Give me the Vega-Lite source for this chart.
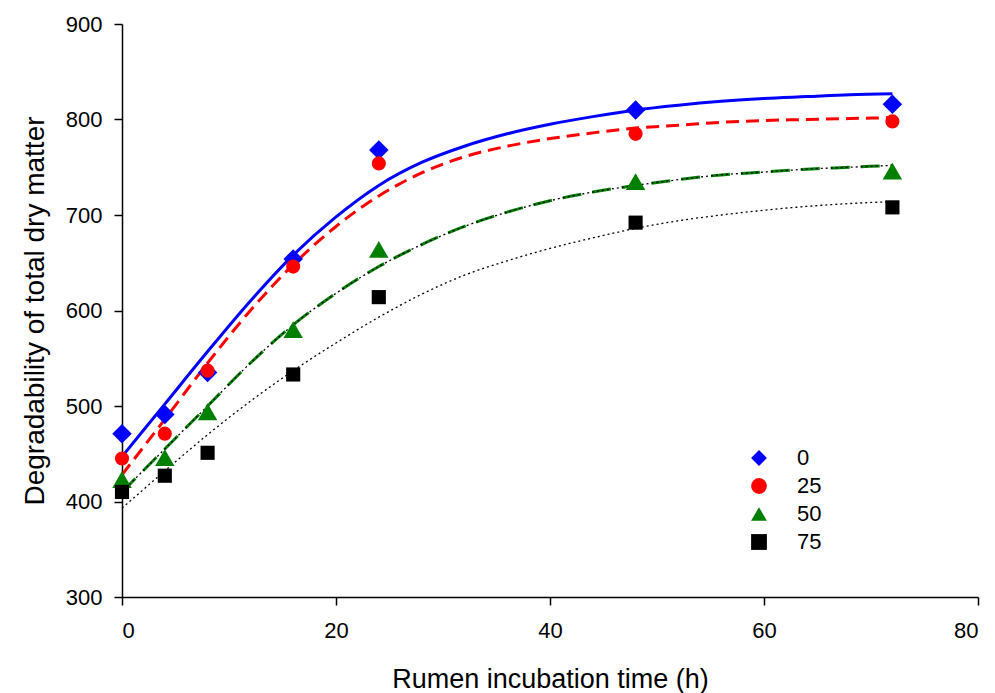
{
  "$schema": "https://vega.github.io/schema/vega-lite/v6.json",
  "width": 856,
  "height": 573,
  "autosize": "none",
  "padding": {"left": 122, "top": 24, "right": 17, "bottom": 96},
  "background": "white",
  "config": {
    "view": {"stroke": null},
    "font": "Liberation Sans",
    "axis": {
      "grid": false,
      "domainColor": "black",
      "tickColor": "black",
      "domainWidth": 1.5,
      "tickWidth": 1.5,
      "tickSize": 8,
      "labelColor": "black",
      "titleColor": "black",
      "labelFont": "Liberation Sans",
      "titleFont": "Liberation Sans",
      "labelFontSize": 22,
      "titleFontSize": 27,
      "titleFontWeight": "normal"
    },
    "legend": {"symbolSize": 250}
  },
  "datasets": {
    "pts": [
      {"t": 0, "value": 471, "series": "0"},
      {"t": 4, "value": 491, "series": "0"},
      {"t": 8, "value": 535, "series": "0"},
      {"t": 16, "value": 654, "series": "0"},
      {"t": 24, "value": 768, "series": "0"},
      {"t": 48, "value": 810, "series": "0"},
      {"t": 72, "value": 816, "series": "0"},
      {"t": 0, "value": 445, "series": "25"},
      {"t": 4, "value": 471, "series": "25"},
      {"t": 8, "value": 537, "series": "25"},
      {"t": 16, "value": 646, "series": "25"},
      {"t": 24, "value": 754, "series": "25"},
      {"t": 48, "value": 785, "series": "25"},
      {"t": 72, "value": 798, "series": "25"},
      {"t": 0, "value": 423, "series": "50"},
      {"t": 4, "value": 446, "series": "50"},
      {"t": 8, "value": 494, "series": "50"},
      {"t": 16, "value": 580, "series": "50"},
      {"t": 24, "value": 664, "series": "50"},
      {"t": 48, "value": 735, "series": "50"},
      {"t": 72, "value": 746, "series": "50"},
      {"t": 0, "value": 410, "series": "75"},
      {"t": 4, "value": 427, "series": "75"},
      {"t": 8, "value": 451, "series": "75"},
      {"t": 16, "value": 533, "series": "75"},
      {"t": 24, "value": 614, "series": "75"},
      {"t": 48, "value": 692, "series": "75"},
      {"t": 72, "value": 708, "series": "75"}
    ],
    "fit": [
      {"t": 0, "value": 447, "series": "0"},
      {"t": 4, "value": 502, "series": "0"},
      {"t": 8, "value": 557, "series": "0"},
      {"t": 12, "value": 610, "series": "0"},
      {"t": 16, "value": 658, "series": "0"},
      {"t": 20, "value": 698, "series": "0"},
      {"t": 24, "value": 731, "series": "0"},
      {"t": 28, "value": 755, "series": "0"},
      {"t": 32, "value": 772, "series": "0"},
      {"t": 36, "value": 785, "series": "0"},
      {"t": 40, "value": 795, "series": "0"},
      {"t": 44, "value": 803, "series": "0"},
      {"t": 48, "value": 810, "series": "0"},
      {"t": 52, "value": 815, "series": "0"},
      {"t": 56, "value": 819, "series": "0"},
      {"t": 60, "value": 822, "series": "0"},
      {"t": 64, "value": 824, "series": "0"},
      {"t": 68, "value": 826, "series": "0"},
      {"t": 72, "value": 827, "series": "0"},
      {"t": 0, "value": 428, "series": "25"},
      {"t": 4, "value": 486, "series": "25"},
      {"t": 8, "value": 545, "series": "25"},
      {"t": 12, "value": 600, "series": "25"},
      {"t": 16, "value": 648, "series": "25"},
      {"t": 20, "value": 688, "series": "25"},
      {"t": 24, "value": 720, "series": "25"},
      {"t": 28, "value": 744, "series": "25"},
      {"t": 32, "value": 761, "series": "25"},
      {"t": 36, "value": 772, "series": "25"},
      {"t": 40, "value": 780, "series": "25"},
      {"t": 44, "value": 786, "series": "25"},
      {"t": 48, "value": 791, "series": "25"},
      {"t": 52, "value": 794, "series": "25"},
      {"t": 56, "value": 797, "series": "25"},
      {"t": 60, "value": 799, "series": "25"},
      {"t": 64, "value": 800, "series": "25"},
      {"t": 68, "value": 801, "series": "25"},
      {"t": 72, "value": 802, "series": "25"},
      {"t": 0, "value": 410, "series": "50"},
      {"t": 4, "value": 455, "series": "50"},
      {"t": 8, "value": 500, "series": "50"},
      {"t": 12, "value": 545, "series": "50"},
      {"t": 16, "value": 585, "series": "50"},
      {"t": 20, "value": 618, "series": "50"},
      {"t": 24, "value": 646, "series": "50"},
      {"t": 28, "value": 669, "series": "50"},
      {"t": 32, "value": 688, "series": "50"},
      {"t": 36, "value": 703, "series": "50"},
      {"t": 40, "value": 715, "series": "50"},
      {"t": 44, "value": 724, "series": "50"},
      {"t": 48, "value": 731, "series": "50"},
      {"t": 52, "value": 737, "series": "50"},
      {"t": 56, "value": 742, "series": "50"},
      {"t": 60, "value": 745, "series": "50"},
      {"t": 64, "value": 748, "series": "50"},
      {"t": 68, "value": 750, "series": "50"},
      {"t": 72, "value": 752, "series": "50"},
      {"t": 0, "value": 393, "series": "75"},
      {"t": 4, "value": 432, "series": "75"},
      {"t": 8, "value": 470, "series": "75"},
      {"t": 12, "value": 505, "series": "75"},
      {"t": 16, "value": 537, "series": "75"},
      {"t": 20, "value": 566, "series": "75"},
      {"t": 24, "value": 593, "series": "75"},
      {"t": 28, "value": 617, "series": "75"},
      {"t": 32, "value": 637, "series": "75"},
      {"t": 36, "value": 652, "series": "75"},
      {"t": 40, "value": 665, "series": "75"},
      {"t": 44, "value": 676, "series": "75"},
      {"t": 48, "value": 686, "series": "75"},
      {"t": 52, "value": 694, "series": "75"},
      {"t": 56, "value": 700, "series": "75"},
      {"t": 60, "value": 705, "series": "75"},
      {"t": 64, "value": 709, "series": "75"},
      {"t": 68, "value": 712, "series": "75"},
      {"t": 72, "value": 714, "series": "75"}
    ]
  },
  "encoding": {
    "x": {
      "field": "t",
      "type": "quantitative",
      "scale": {"domain": [0, 80], "nice": false, "zero": false},
      "axis": {"values": [0, 20, 40, 60, 80], "title": "Rumen incubation time (h)", "labelPadding": 15, "titlePadding": 25}
    },
    "y": {
      "field": "value",
      "type": "quantitative",
      "scale": {"domain": [300, 900], "nice": false, "zero": false},
      "axis": {"values": [300, 400, 500, 600, 700, 800, 900], "title": "Degradability of total dry matter", "titleFontSize": 28, "labelPadding": 12, "titlePadding": 16}
    },
    "color": {
      "field": "series",
      "type": "nominal",
      "scale": {"domain": ["0", "25", "50", "75"], "range": ["#0000ff", "#ff0000", "#008000", "#000000"]},
      "legend": {
        "title": null,
        "orient": "none",
        "legendX": 626,
        "legendY": 423,
        "labelFontSize": 22,
        "labelFont": "Liberation Sans",
        "labelColor": "black",
        "labelOffset": 27,
        "rowPadding": 6,
        "symbolStrokeWidth": 0
      }
    },
    "shape": {
      "field": "series",
      "type": "nominal",
      "scale": {"domain": ["0", "25", "50", "75"], "range": ["diamond", "circle", "triangle-up", "square"]}
    }
  },
  "layer": [
    {
      "data": {"name": "fit"},
      "transform": [{"filter": "datum.series === '0'"}],
      "mark": {"type": "line", "strokeWidth": 3, "interpolate": "monotone"},
      "encoding": {"color": {"value": "#0000ff"}, "shape": null}
    },
    {
      "data": {"name": "fit"},
      "transform": [{"filter": "datum.series === '25'"}],
      "mark": {"type": "line", "strokeWidth": 3, "strokeDash": [13, 7], "interpolate": "monotone"},
      "encoding": {"color": {"value": "#ff0000"}, "shape": null}
    },
    {
      "data": {"name": "fit"},
      "transform": [{"filter": "datum.series === '50'"}],
      "mark": {"type": "line", "strokeWidth": 3, "strokeDash": [19, 11], "interpolate": "monotone"},
      "encoding": {"color": {"value": "#008000"}, "shape": null}
    },
    {
      "data": {"name": "fit"},
      "transform": [{"filter": "datum.series === '50' || datum.series === '75'"}],
      "mark": {"type": "line", "strokeWidth": 1.3, "strokeDash": [2, 3], "interpolate": "monotone"},
      "encoding": {"color": {"value": "#000000"}, "shape": null, "detail": {"field": "series"}}
    },
    {
      "data": {"name": "pts"},
      "transform": [{"filter": "datum.series === '0'"}],
      "mark": {"type": "point", "filled": true, "opacity": 1, "strokeWidth": 0, "size": 380}
    },
    {
      "data": {"name": "pts"},
      "transform": [{"filter": "datum.series === '25'"}],
      "mark": {"type": "point", "filled": true, "opacity": 1, "strokeWidth": 0, "size": 200}
    },
    {
      "data": {"name": "pts"},
      "transform": [{"filter": "datum.series === '50'"}],
      "mark": {"type": "point", "filled": true, "opacity": 1, "strokeWidth": 0, "size": 380}
    },
    {
      "data": {"name": "pts"},
      "transform": [{"filter": "datum.series === '75'"}],
      "mark": {"type": "point", "filled": true, "opacity": 1, "strokeWidth": 0, "size": 200}
    }
  ]
}
